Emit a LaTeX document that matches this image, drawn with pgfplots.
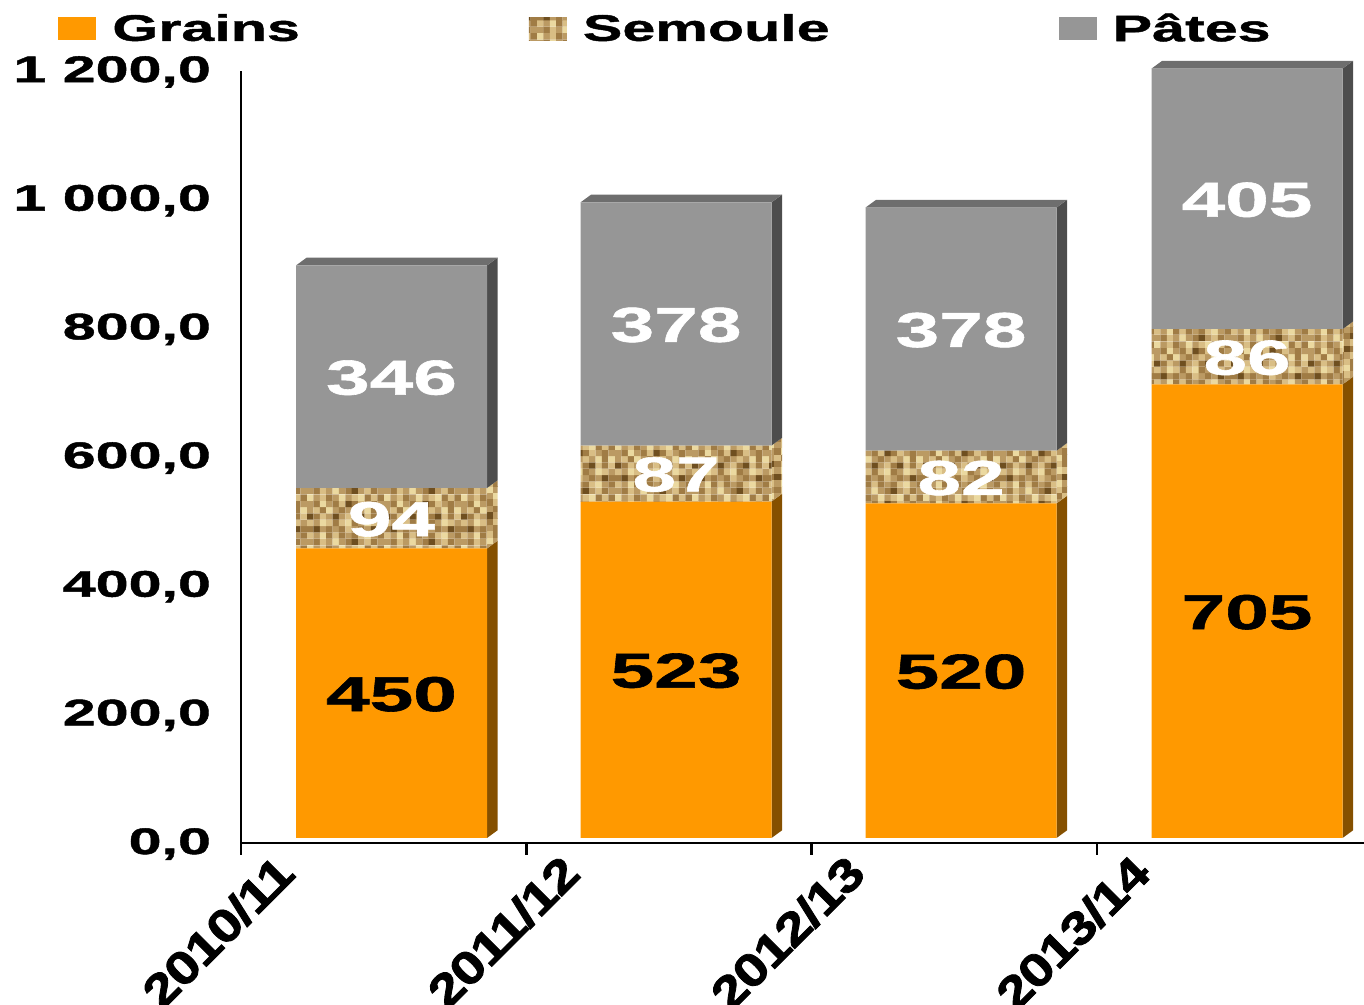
\documentclass[border=0pt]{standalone}
\usepackage{fontspec}
\usepackage{pgfplots}
\pgfplotsset{compat=1.18}
\usetikzlibrary{patterns}
\setmainfont{Liberation Sans}[FakeStretch=1.6,BoldFeatures={FakeBold=1.2}]
\newfontfamily\xtickfamily{Liberation Sans}[FakeStretch=1.22,LetterSpace=-3,BoldFeatures={FakeBold=1.8,LetterSpace=-3}]

\definecolor{grains}{HTML}{FF9900}
\definecolor{grainsside}{HTML}{855000}
\definecolor{pates}{HTML}{969696}
\definecolor{patestop}{HTML}{6E6E6E}
\definecolor{patesside}{HTML}{4D4D4D}
\definecolor{sa}{HTML}{EBD9A0}
\definecolor{sb}{HTML}{D9BE85}
\definecolor{sc}{HTML}{BB9A63}
\definecolor{sd}{HTML}{A07C45}
\definecolor{se}{HTML}{6F4F20}

% texture tile for the Semoule bars
\newcommand{\cellrow}[2]{%
  \foreach \c [count=\i from 0] in {#2}{%
    \pgfsetfillcolor{\c}%
    \pgfpathrectangle{\pgfpoint{\i*3.2pt}{#1*3.2pt}}{\pgfpoint{3.25pt}{3.25pt}}%
    \pgfusepath{fill}%
  }}
\pgfdeclarepatterninherentlycolored{semoule}{\pgfpointorigin}{\pgfpoint{38.4pt}{25.6pt}}{\pgfpoint{38.4pt}{25.6pt}}{%
  \cellrow{0}{sc,sd,sb,sc,sa,sc,sd,se,sc,sb,sd,sc}%
  \cellrow{1}{sb,sc,sa,sd,sb,sd,sc,sd,sb,sa,sc,sd}%
  \cellrow{2}{sd,se,sc,sd,sc,sd,sb,sc,sd,sc,se,sd}%
  \cellrow{3}{sb,sc,sa,sb,sd,sb,sa,sd,sc,sa,sb,sc}%
  \cellrow{4}{se,sd,sb,sc,se,sc,sb,sd,se,sb,sd,sb}%
  \cellrow{5}{sc,sb,sd,sa,sc,sd,sc,sb,sc,sa,sd,sa}%
  \cellrow{6}{sc,sd,sa,sc,sd,sb,se,sd,sb,sc,sd,sc}%
  \cellrow{7}{sa,sc,sb,sd,sc,sa,sc,sb,sa,sd,sb,sd}%
}

\pgfplotsset{
  basis/.style={
    scale only axis, width=561.5pt, height=386pt,
    xmin=0, xmax=3.936,
  },
  hidden/.style={basis, hide axis, clip=false, ymin=-7.77, ymax=1192.23},
}
\newcommand{\chartfont}{\fontsize{18.5}{20}\selectfont\bfseries}
\newcommand{\labelfont}{\fontsize{24.5}{26}\selectfont\bfseries}
\newcommand{\xtickfont}{\fontsize{23}{25}\selectfont\xtickfamily\bfseries}

\begin{document}
\begin{tikzpicture}
\path[use as bounding box, clip] (-120.5pt,-81pt) rectangle (561.5pt,421.5pt);

% side and top faces
\begin{axis}[hidden]
\addplot[fill=grainsside, draw=none] coordinates {(.8622,0) (.8992,12) (.8992,462) (.8622,450)} -- cycle;
\addplot[pattern=semoule, draw=none] coordinates {(.8622,450) (.8992,462) (.8992,556) (.8622,544)} -- cycle;
\addplot[fill=patesside, draw=none] coordinates {(.8622,544) (.8992,556) (.8992,902) (.8622,890)} -- cycle;
\addplot[fill=patestop, draw=none] coordinates {(.1928,890) (.2298,902) (.8992,902) (.8622,890)} -- cycle;

\addplot[fill=grainsside, draw=none] coordinates {(1.8594,0) (1.8964,12) (1.8964,535) (1.8594,523)} -- cycle;
\addplot[pattern=semoule, draw=none] coordinates {(1.8594,523) (1.8964,535) (1.8964,622) (1.8594,610)} -- cycle;
\addplot[fill=patesside, draw=none] coordinates {(1.8594,610) (1.8964,622) (1.8964,1000) (1.8594,988)} -- cycle;
\addplot[fill=patestop, draw=none] coordinates {(1.19,988) (1.227,1000) (1.8964,1000) (1.8594,988)} -- cycle;

\addplot[fill=grainsside, draw=none] coordinates {(2.8584,0) (2.8954,12) (2.8954,532) (2.8584,520)} -- cycle;
\addplot[pattern=semoule, draw=none] coordinates {(2.8584,520) (2.8954,532) (2.8954,614) (2.8584,602)} -- cycle;
\addplot[fill=patesside, draw=none] coordinates {(2.8584,602) (2.8954,614) (2.8954,992) (2.8584,980)} -- cycle;
\addplot[fill=patestop, draw=none] coordinates {(2.189,980) (2.226,992) (2.8954,992) (2.8584,980)} -- cycle;

\addplot[fill=grainsside, draw=none] coordinates {(3.8608,0) (3.8978,12) (3.8978,717) (3.8608,705)} -- cycle;
\addplot[pattern=semoule, draw=none] coordinates {(3.8608,705) (3.8978,717) (3.8978,803) (3.8608,791)} -- cycle;
\addplot[fill=patesside, draw=none] coordinates {(3.8608,791) (3.8978,803) (3.8978,1208) (3.8608,1196)} -- cycle;
\addplot[fill=patestop, draw=none] coordinates {(3.1914,1196) (3.2284,1208) (3.8978,1208) (3.8608,1196)} -- cycle;
\end{axis}

% front faces
\begin{axis}[
  hidden,
  ybar stacked, bar width=95.5pt,
  point meta=rawy,
  nodes near coords,
  every node near coord/.append style={anchor=center, yshift=-0.5pt, font=\labelfont},
  /pgf/number format/assume math mode=true,
  legend style={at={(-0.163,1.0545)}, anchor=west, draw=none, fill=none, inner sep=0pt,
    font=\chartfont, /tikz/every even column/.append style={column sep=112.5pt},
    /tikz/every odd column/.append style={column sep=6pt}},
  legend columns=3,
  legend image code/.code={\path[#1] (0pt,-5.75pt) rectangle (19pt,5.75pt);},
]
\addplot[fill=grains, draw=none, nodes near coords style={text=black}] coordinates {(.5275,450) (1.5247,523) (2.5237,520) (3.5261,705)};
\addplot[pattern=semoule, draw=none, nodes near coords style={text=white}] coordinates {(.5275,94) (1.5247,87) (2.5237,82) (3.5261,86)};
\addplot[fill=pates, draw=none, nodes near coords style={text=white}] coordinates {(.5275,346) (1.5247,378) (2.5237,378) (3.5261,405)};
\legend{Grains,Semoule,Pâtes}
\end{axis}

% axis lines, ticks and labels
\begin{axis}[
  basis,
  ymin=0, ymax=1200,
  axis lines=left, axis line style={-, line width=1.4pt, black},
  ytick={0,200,400,600,800,1000,1200},
  ytick style={draw=none},
  xtick={0,1,2,3},
  xticklabels={2010/11,2011/12,2012/13,2013/14},
  xtick align=outside, xtick style={line width=1.4pt, black},
  major tick length=6pt,
  yticklabel style={font=\chartfont, xshift=-8.5pt, yshift=-0.5pt},
  /pgf/number format/.cd, fixed, fixed zerofill, precision=1, use comma, 1000 sep={\ }, assume math mode=true,
  /pgfplots/.cd,
  xticklabel style={font=\xtickfont, rotate=45, anchor=north east, xshift=16pt, yshift=-7pt},
]
\end{axis}
\end{tikzpicture}
\end{document}
